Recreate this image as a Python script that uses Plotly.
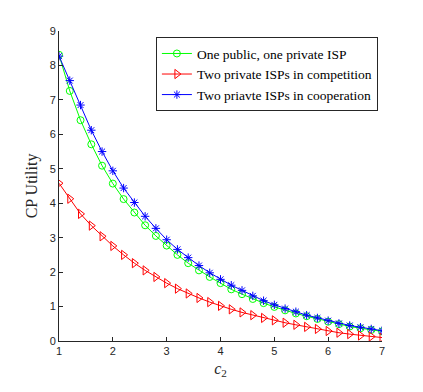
import plotly.graph_objects as go

# c2 sampled every 0.2 from 1 to 7
c2 = [1.0, 1.2, 1.4, 1.6, 1.8, 2.0, 2.2, 2.4, 2.6, 2.8, 3.0,
      3.2, 3.4, 3.6, 3.8, 4.0, 4.2, 4.4, 4.6, 4.8, 5.0,
      5.2, 5.4, 5.6, 5.8, 6.0, 6.2, 6.4, 6.6, 6.8, 7.0]

public_private = [8.31, 7.26, 6.41, 5.71, 5.09, 4.57, 4.12, 3.73, 3.36, 3.05, 2.77,
                  2.50, 2.26, 2.05, 1.86, 1.68, 1.50, 1.36, 1.22, 1.10, 0.99,
                  0.89, 0.80, 0.72, 0.64, 0.56, 0.49, 0.42, 0.37, 0.32, 0.28]

private_competition = [4.58, 4.13, 3.69, 3.35, 3.04, 2.76, 2.50, 2.26, 2.05, 1.86, 1.68,
                       1.52, 1.38, 1.25, 1.13, 1.02, 0.92, 0.83, 0.75, 0.67, 0.60,
                       0.53, 0.47, 0.41, 0.35, 0.29, 0.24, 0.20, 0.16, 0.13, 0.10]

private_cooperation = [8.27, 7.56, 6.85, 6.12, 5.50, 4.94, 4.44, 4.02, 3.62, 3.27, 2.94,
                       2.66, 2.42, 2.19, 1.98, 1.79, 1.62, 1.47, 1.31, 1.17, 1.05,
                       0.94, 0.85, 0.75, 0.67, 0.59, 0.51, 0.45, 0.40, 0.35, 0.30]

names = ["One public, one private ISP",
         "Two private ISPs in competition",
         "Two priavte ISPs in cooperation"]

serif = "Liberation Serif"

fig = go.Figure()
fig.add_trace(go.Scatter(x=c2, y=public_private, name=names[0], mode="lines+markers",
                         line=dict(color="#00ff00", width=1),
                         marker=dict(symbol="circle-open", size=7, color="#00ff00", line=dict(width=1))))
fig.add_trace(go.Scatter(x=c2, y=private_competition, name=names[1], mode="lines+markers",
                         line=dict(color="#ff0000", width=1),
                         marker=dict(symbol="triangle-right-open", size=8, color="#ff0000", line=dict(width=1))))
fig.add_trace(go.Scatter(x=c2, y=private_cooperation, name=names[2], mode="lines+markers",
                         line=dict(color="#0000ff", width=1),
                         marker=dict(symbol="asterisk-open", size=7, color="#0000ff", line=dict(width=1, color="#0000ff"))))

axis_style = dict(showline=True, linecolor="#262626", linewidth=1, ticks="inside",
                  ticklen=4, tickcolor="#262626", showgrid=False, zeroline=False,
                  tickfont=dict(family="Liberation Sans", size=11, color="#262626"))

fig.update_xaxes(range=[1, 7], tickvals=[1, 2, 3, 4, 5, 6, 7],
                 title=dict(text="<i>c</i><sub>2</sub>", standoff=6,
                            font=dict(family=serif, size=16, color="#262626")),
                 **axis_style)
fig.update_yaxes(range=[0, 9], tickvals=list(range(10)),
                 title=dict(text="CP Utility", standoff=8,
                            font=dict(family=serif, size=16, color="#262626")),
                 **axis_style)

# the page body adds an 8px offset, so the margins are shifted to compensate
fig.update_layout(
    width=423, height=392,
    margin=dict(l=51, r=49, t=23, b=59),
    plot_bgcolor="white", paper_bgcolor="white",
    showlegend=True,
    legend=dict(x=0.30, y=0.98, xanchor="left", yanchor="top",
                bgcolor="white", bordercolor="#262626", borderwidth=1,
                font=dict(family=serif, size=13.5, color="black"),
                tracegroupgap=0, itemwidth=30),
)

fig.write_html("out.html")
